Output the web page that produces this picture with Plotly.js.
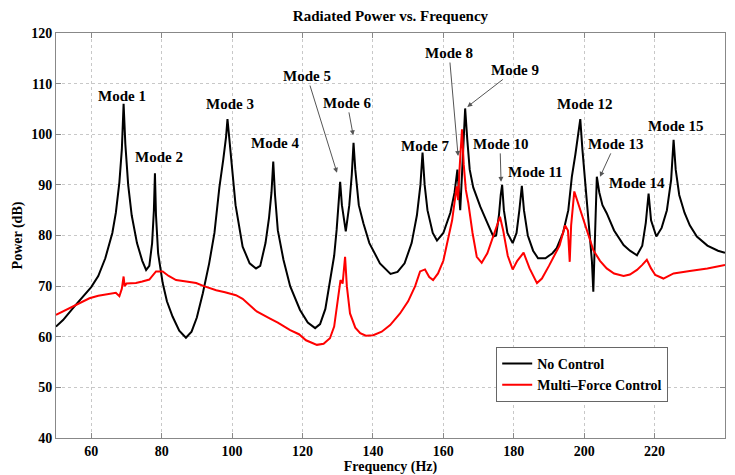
<!DOCTYPE html>
<html>
<head>
<meta charset="utf-8">
<script src="https://cdn.plot.ly/plotly-3.0.1.min.js"></script>
<style>html,body{margin:0;padding:0;background:#fff;}#chart{width:735px;height:475px;}</style>
</head>
<body>
<div id="chart"></div>
<script>
// ---- Data ----
const noControlFreq = [50,52,55,58,60,62,64,66,67,68,68.7,69.2,69.7,70.5,71.5,73,74.5,75.6,76.5,77.3,77.8,78.1,78.4,79,80.3,81.5,83.1,85,86.9,88.5,90,91.7,93.5,95,96.4,97.5,98.3,98.7,99.2,100,101,103,105,106.8,108,109.5,110.5,111.2,111.7,112.2,113,114.6,116.5,119.3,121.5,123.6,125,126.5,127.8,129,129.7,130.3,130.7,131.2,132.3,133.3,134,134.5,135,136,137.3,139,142,145,147,149,151,152.5,153.5,154.1,154.7,155.5,157,158.2,160,162,163.2,164,164.5,164.8,165.3,165.8,166.2,166.8,167.5,168.5,170.5,172.5,174.2,175,175.8,176.3,176.7,177.2,178.2,179.7,180.8,181.6,182.3,182.9,184,185.5,186.9,189,191,192.2,194,195.5,196.5,197.5,198.2,198.9,199.5,200.5,201.5,202.2,202.6,203,203.6,204.3,205.2,206.4,208.5,211.2,213,215,216.5,217.5,218.3,219,220.5,222,223.5,224.7,225.4,226,227,228.5,230,232,235,238,240];
const noControlPower = [62.0,63.3,65.8,68.2,69.8,72.0,75.5,80.5,84.5,90.5,97,106,98,90,84,78.5,75,73.2,74,78.5,85,92.3,84,76.5,70.6,67,64.0,61.2,59.8,61.0,63.8,68.6,74.5,80.5,89.5,95,99.5,103,99,93,86,77.8,74.5,73.5,74,78.5,83.5,88.5,94.6,88,81,75.2,70,65.3,62.8,61.7,62.5,65.5,71.2,76,81.1,86,90.6,86,80.8,86,92,98.3,93,86,82.4,78.5,74.5,72.4,72.8,74.5,78.5,84,90,96.4,90,85,80.5,79.0,80.5,84.5,88.5,93,88,85,92,99,105.1,99,93,89.5,85.7,82.5,79.8,80,84,88,90,85,80.5,78.5,80.5,85,89.8,85,80,77,75.5,75.5,76.5,77.5,80.5,85,91.6,96,99.5,103,97,89,81,75,68.9,80,91.6,88.5,86,84.4,81,78.1,77,76.1,78,82.5,88.3,83,79.8,81.5,85,91,98.9,93,88,84.5,82,79.8,78,77,76.6];

const controlFreq = [50,53,56,59.5,62,65,67,68,68.7,69.2,69.5,70,72.7,74.5,76.5,78.4,80.3,82,84.1,87,89.8,92,95.5,98,101.1,103,105,107,110.8,113,116.5,119,121,124.1,126,127.8,129,130.2,130.8,131.4,132.1,132.6,133.5,135,136.4,138,140.1,142.5,144.9,147.7,150,152,153.4,154.8,156,157.1,158.5,160,161,162.5,163.8,164.2,164.6,165.3,165.8,166.4,167.1,168.3,169.5,170.9,172.5,174.2,176.1,177,178.3,179.7,181,182.8,184.5,186.6,188,190,191.3,193,194.6,195.4,195.9,196.3,197.2,198.5,199.8,201,202.6,204.5,206.4,208.5,211.2,213,215,216.5,217.8,219,220.2,222.5,225.4,230,235,240];
const controlPower = [64.3,65.3,66.3,67.6,68.1,68.5,68.7,68.0,69.5,71.9,70,70.5,70.6,70.9,71.3,72.9,72.9,72.0,71.2,70.9,70.6,70.0,69.2,68.8,68.2,67.5,66.3,65.0,63.6,62.8,61.3,60.5,59.3,58.4,58.6,59.7,62,68.6,71.2,70.5,75.8,70,64.6,61.8,60.7,60.2,60.3,61,62.3,64.6,67,70,72.9,73.3,71.8,71.2,72.5,75,78.5,83,89.7,87,93,101.0,94,89,86.4,80.5,75.8,74.6,76.5,79.8,83.7,81,76,73.3,75,76.6,73.5,70.6,71.5,74,75.8,78,82,81,74.8,82,88.7,86,83.1,80.5,77.1,75,73.5,72.5,72.0,72.3,73.2,74.2,75.2,73.5,72.2,71.5,72.5,73.0,73.5,74.2];

const seriesNames = ["No Control", "Multi\u2013Force Control"];
const xTicks = [60,80,100,120,140,160,180,200,220,240];
const yTicks = [40,50,60,70,80,90,100,110,120];

const modeLabels = ["Mode 1","Mode 2","Mode 3","Mode 4","Mode 5","Mode 6","Mode 7","Mode 8","Mode 9","Mode 10","Mode 11","Mode 12","Mode 13","Mode 14","Mode 15"];
// ---- layout: label positions (data units), optional arrow tips ----
const labelPos = [
  {x:68.75,y:107.6},{x:79.3,y:95.5},{x:99.4,y:106.0},{x:112.2,y:98.3},
  {x:121.3,y:111.5,tx:129.8,ty:92.4},{x:132.7,y:106.2,tx:134.4,ty:99.8},
  {x:154.8,y:97.7},{x:161.65,y:116.05,tx:164.2,ty:95.7},
  {x:180.4,y:112.7,tx:166.8,ty:105.4},{x:176.1,y:98.1,tx:176.4,ty:90.6},
  {x:186.1,y:92.5},{x:200.0,y:106.0},{x:208.8,y:98.1,tx:204.5,ty:91.6},
  {x:215.1,y:90.4},{x:225.9,y:101.6}
];

const fontFam = '"Liberation Serif", "Times New Roman", Times, serif';
const baseFont = {family: fontFam, size: 15, color: '#000', weight: 'bold'};
const tickFont = {family: fontFam, size: 14, color: '#000', weight: 'bold'};
const axTitleFont = {family: fontFam, size: 14, color: '#000', weight: 'bold'};

const annotations = modeLabels.map((t, i) => {
  const p = labelPos[i];
  if (p.tx !== undefined) {
    return {text: t, x: p.tx, y: p.ty, xref: 'x', yref: 'y', ax: p.x, ay: p.y, axref: 'x', ayref: 'y',
      showarrow: true, arrowhead: 2, arrowsize: 1, arrowwidth: 1, arrowcolor: '#555',
      font: baseFont, standoff: 0};
  }
  return {text: t, x: p.x, y: p.y, xref: 'x', yref: 'y', showarrow: false, font: baseFont};
});

const traces = [
  {x: noControlFreq, y: noControlPower, name: seriesNames[0], type: 'scatter', mode: 'lines',
   line: {color: '#000', width: 2}},
  {x: controlFreq, y: controlPower, name: seriesNames[1], type: 'scatter', mode: 'lines',
   line: {color: '#ff0000', width: 2}}
];

const axisCommon = {
  showline: true, linecolor: '#888', linewidth: 1, mirror: 'ticks',
  ticks: 'inside', ticklen: 5, tickcolor: '#888',
  showgrid: true, gridcolor: '#c8c8c8', griddash: 'dot', gridwidth: 1,
  zeroline: false, tickfont: tickFont
};

const layout = {
  width: 735, height: 475,
  margin: {l: 56, r: 10, t: 33, b: 37},
  paper_bgcolor: '#fff', plot_bgcolor: '#fff',
  font: baseFont,
  title: {text: 'Radiated Power vs. Frequency', font: {family: fontFam, size: 15, color: '#000', weight: 'bold'},
          x: 0.5, xref: 'paper', xanchor: 'center', y: 1 - 16/475, yref: 'container', yanchor: 'middle'},
  xaxis: Object.assign({}, axisCommon, {range: [50, 240], tickvals: xTicks,
          title: {text: 'Frequency (Hz)', font: axTitleFont, standoff: 3}}),
  yaxis: Object.assign({}, axisCommon, {range: [40, 120], tickvals: yTicks,
          title: {text: 'Power (dB)', font: axTitleFont, standoff: 5}}),
  legend: {x: 0.658, y: 0.225, xanchor: 'left', yanchor: 'top', bgcolor: '#fff',
           bordercolor: '#666', borderwidth: 1, font: {family: fontFam, size: 14, color: '#000', weight: 'bold'},
           tracegroupgap: 0},
  showlegend: true,
  annotations: annotations
};

Plotly.newPlot('chart', traces, layout, {staticPlot: true, displayModeBar: false});
</script>
</body>
</html>
